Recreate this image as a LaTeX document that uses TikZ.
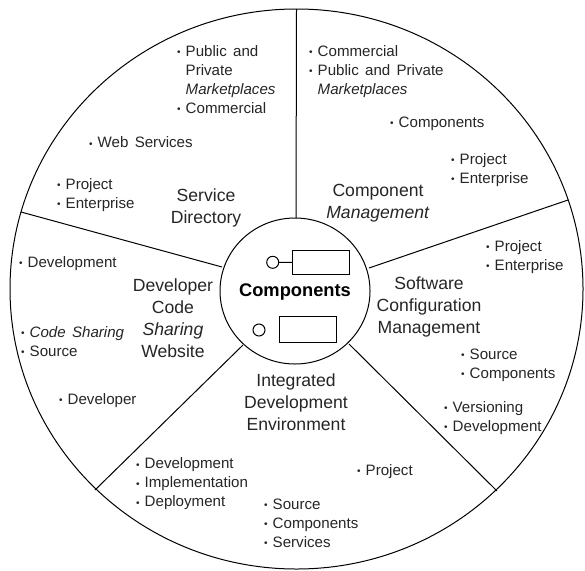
\documentclass[tikz,border=0pt]{standalone}
\usepackage{fontspec}
\setmainfont{Liberation Sans}
\usetikzlibrary{shapes.geometric}
\newcommand{\bl}[1]{\makebox[8.5pt][l]{\raisebox{0.8pt}{\fontsize{10}{10}\selectfont\textbullet}}#1}
\newcommand{\ind}[1]{\makebox[8.5pt][l]{}#1}
\tikzset{
  wheel/.style={draw=black,line width=1pt,ellipse,inner sep=0pt,minimum width=#1},
  spoke/.style={draw=black,line width=1pt},
  lst/.style={anchor=west,inner sep=0pt,align=left,font=\fontsize{15.1}{19}\selectfont,text=black!85,execute at begin node={\spaceskip=6.3pt\relax}},
  ttl/.style={inner sep=0pt,align=center,font=\fontsize{17.6}{22}\selectfont,text=black!85},
  port/.style={draw=black,line width=1pt,circle,inner sep=0pt,minimum size=12pt},
  comp/.style={draw=black,line width=1pt,inner sep=0pt,anchor=north west}
}
\begin{document}
\begin{tikzpicture}[x=1pt,y=-1pt]
\useasboundingbox (0,0) rectangle (585,570);
\fill[white] (0,0) rectangle (585,570);
\node[wheel=573pt,minimum height=560pt] (outer) at (296.5,289) {};
\node[wheel=150pt,minimum height=146pt,fill=white] (inner) at (295,291) {};
% spokes
\coordinate (t1) at (296.5,9);   \coordinate (t2) at (296,218);
\coordinate (l1) at (21,212);    \coordinate (l2) at (222,267);
\coordinate (r1) at (568,200);   \coordinate (r2) at (369,268);
\coordinate (lr1) at (497,491);  \coordinate (lr2) at (349,344);
\coordinate (ll1) at (95,490);   \coordinate (ll2) at (243,345);
\draw[spoke] (t1) -- (t2);
\draw[spoke] (l1) -- (l2);
\draw[spoke] (r1) -- (r2);
\draw[spoke] (lr1) -- (lr2);
\draw[spoke] (ll1) -- (ll2);
% centre
\node[inner sep=0pt,font=\fontsize{18.3}{22}\selectfont\bfseries] (ctitle) at (295,292.5) {Components};
\node[port] (p1) at (272.7,262.3) {};
\node[comp,minimum width=57pt,minimum height=24pt] (c1) at (292,250) {};
\draw[spoke] (p1) -- (c1);
\node[port] (p2) at (259,330) {};
\node[comp,minimum width=57pt,minimum height=26pt] (c2) at (279,316) {};
% titles
\node[ttl] (tsd) at (206,208) {Service\\Directory};
\node[ttl] (tcm) at (378,203) {Component\\\textit{Management}};
\node[ttl] (tscm) at (429,307) {Software\\Configuration\\Management};
\node[ttl] (tdev) at (173,318) {Developer\\Code\\\textit{Sharing}\\Website};
\node[ttl] (tide) at (296,402) {Integrated\\Development\\Environment};
% lists (position = mid-height of block)
\node[lst] (a1) at (177,79.5) {\bl{Public and}\\\ind{Private}\\\ind{\textit{Marketplaces}}\\\bl{Commercial}};
\node[lst] (a2) at (89,142.5) {\bl{Web Services}};
\node[lst] (a3) at (57,195) {\bl{Project}\\\bl{Enterprise}};
\node[lst] (a4) at (19,263.5) {\bl{Development}};
\node[lst] (a5) at (21,341.5) {\bl{\textit{Code Sharing}}\\\bl{Source}};
\node[lst] (a6) at (59,400.5) {\bl{Developer}};
\node[lst] (a7) at (136,484) {\bl{Development}\\\bl{Implementation}\\\bl{Deployment}};
\node[lst] (a8) at (264,523) {\bl{Source}\\\bl{Components}\\\bl{Services}};
\node[lst] (a9) at (357,471.5) {\bl{Project}};
\node[lst] (a10) at (444,418) {\bl{Versioning}\\\bl{Development}};
\node[lst] (a11) at (461,365) {\bl{Source}\\\bl{Components}};
\node[lst] (a12) at (486,257) {\bl{Project}\\\bl{Enterprise}};
\node[lst] (a13) at (451,170) {\bl{Project}\\\bl{Enterprise}};
\node[lst] (a14) at (390,123.5) {\bl{Components}};
\node[lst] (a15) at (309,71.5) {\bl{Commercial}\\\bl{Public and Private}\\\ind{\textit{Marketplaces}}};
\end{tikzpicture}
\end{document}
